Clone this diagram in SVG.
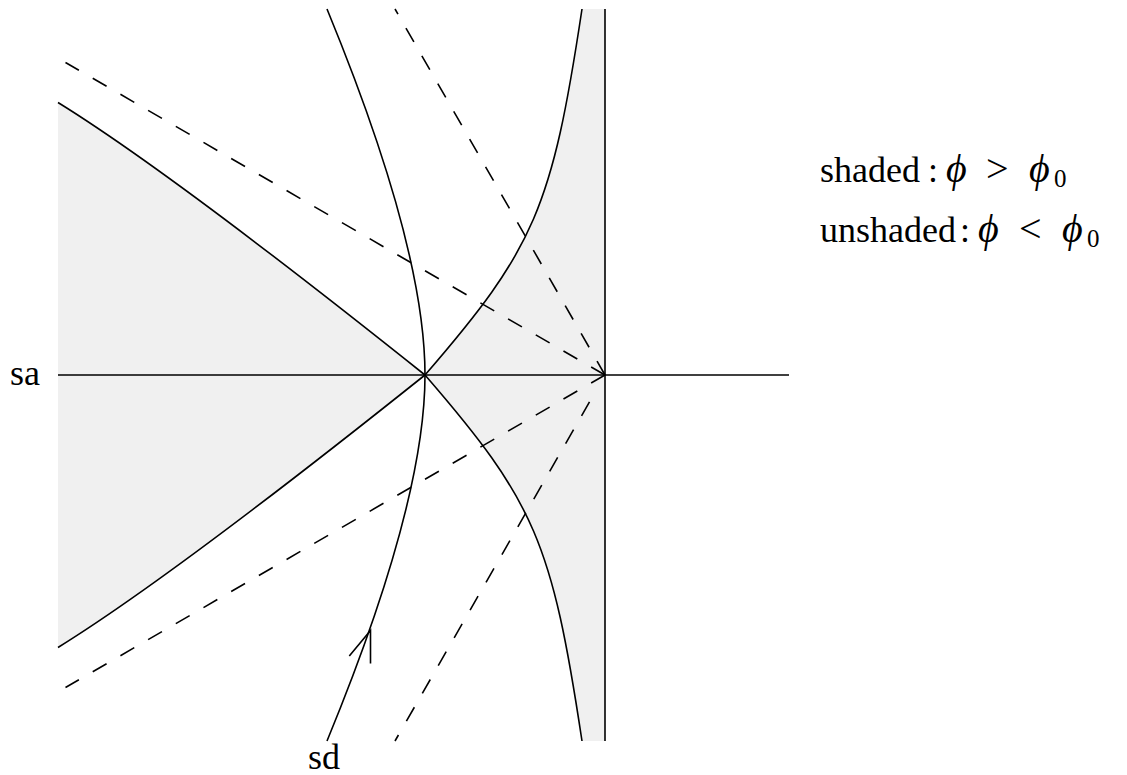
<svg xmlns="http://www.w3.org/2000/svg" width="1127" height="775" viewBox="0 0 1127 775">
<style>
.shade{fill:#f0f0f0;stroke:none}
.solid{fill:none;stroke:#000;stroke-width:1.6}
.dash{fill:none;stroke:#000;stroke-width:1.6;stroke-dasharray:16 16}
.t{font-family:"Liberation Serif","DejaVu Serif",serif;font-size:36px;fill:#000}
.m{font-family:"Liberation Serif","DejaVu Serif",serif;font-style:italic;font-size:40px}
.r{font-size:40px}
</style>
<rect width="1127" height="775" fill="#fff"/>
<g id="region-left">
<path class="shade" d="M58,102.5 Q172,173 425,375 Q172,577 58,647.5 Z"/>
</g>
<g id="region-right">
<path class="shade" d="M425,375 C535,248 552,208 582,9 L605,9 L605,741 L582,741 C552,542 535,502 425,375 Z"/>
</g>
<g id="curves">
<path id="curve-left-upper" class="solid" d="M58,102.5 Q172,173 425,375"/>
<path id="curve-left-lower" class="solid" d="M58,647.5 Q172,577 425,375"/>
<path id="curve-right-upper" class="solid" d="M425,375 C535,248 552,208 582,9"/>
<path id="curve-right-lower" class="solid" d="M425,375 C535,502 552,542 582,741"/>
<path id="curve-sd" class="solid" d="M327,9 Q425,247 425,375 Q425,503 327,741"/>
</g>
<g id="connectors">
<line id="axis-horizontal" class="solid" x1="58" y1="375" x2="789" y2="375"/>
<line id="axis-vertical" class="solid" x1="605" y1="9" x2="605" y2="741"/>
<polyline id="arrow-sd" class="solid" points="349.3,656 370.5,630.5 370.5,663.5"/>
<line class="dash" x1="605" y1="375" x2="65.5" y2="62.5"/>
<line class="dash" x1="605" y1="375" x2="65.5" y2="687.5"/>
<line class="dash" x1="605" y1="375" x2="395" y2="9"/>
<line class="dash" x1="589.5" y1="401.9" x2="395" y2="741"/>
</g>
<g id="label-sa"><text class="t" x="10" y="385">sa</text></g>
<g id="label-sd"><text class="t" x="308" y="769">sd</text></g>
<g id="legend">
<text class="t" x="820" y="182">shaded<tspan x="928">:</tspan><tspan class="m" x="946">ϕ</tspan><tspan class="r" x="986">&gt;</tspan><tspan class="m" x="1029">ϕ</tspan><tspan x="1054" dy="5" font-size="25">0</tspan></text>
<text class="t" x="820" y="242">unshaded<tspan x="960">:</tspan><tspan class="m" x="978">ϕ</tspan><tspan class="r" x="1019">&lt;</tspan><tspan class="m" x="1062">ϕ</tspan><tspan x="1087" dy="5" font-size="25">0</tspan></text>
</g>
</svg>
